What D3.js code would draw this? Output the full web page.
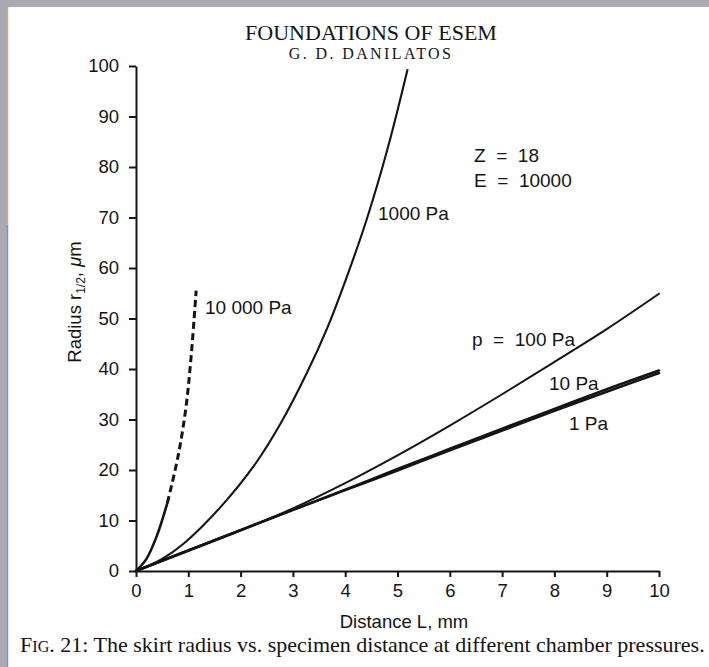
<!DOCTYPE html>
<html>
<head>
<meta charset="utf-8">
<script src="https://cdn.jsdelivr.net/npm/d3@7"></script>
<style>
  body { margin: 0; background: #a9aab1; }
  text { fill: #141414; }
</style>
</head>
<body>
<div id="chart"></div>
<script>
// values (distance L in mm, radius in um)
var xTicks = [0, 1, 2, 3, 4, 5, 6, 7, 8, 9, 10];
var yTicks = [0, 10, 20, 30, 40, 50, 60, 70, 80, 90, 100];

var p1 = [[0, 0], [1, 4.1], [2, 8.1], [3, 12.1], [4, 16], [5, 19.9], [6, 23.9], [7, 27.8], [8, 31.7], [9, 35.5], [10, 39.2]];
var p10 = [[0, 0], [1, 4.1], [2, 8.1], [3, 12.1], [4, 16.1], [5, 20.2], [6, 24.2], [7, 28.2], [8, 32.1], [9, 36], [10, 39.7]];
var p100 = [[0, 0], [1, 3.95], [2, 8], [3, 12.4], [4, 17.4], [5, 22.9], [6, 28.8], [7, 35], [8, 41.4], [9, 47.9], [10, 54.9]];
var p1000 = [[0, 0], [0.5, 2.4], [0.92, 5.5], [1.62, 12.7], [2.26, 20.9], [2.77, 29.3], [3.28, 39.5], [3.66, 48.2], [4.04, 58.5], [4.42, 69.9], [4.81, 83.6], [5.19, 99.2]];
var p10000 = [[0, 0], [0.2, 2.4], [0.4, 7], [0.6, 13.5], [0.8, 22.5], [0.95, 32], [1.05, 42], [1.15, 55.5]];

var width = 709, height = 667;

var svg = d3.select("#chart").append("svg")
  .attr("width", width)
  .attr("height", height);

// scanned page
svg.append("rect").attr("x", 7).attr("y", 7).attr("width", width - 7).attr("height", height - 7).attr("fill", "#fff");
svg.append("line").attr("x1", 7.5).attr("x2", 7.5).attr("y1", 7).attr("y2", 225)
  .attr("stroke", "#e2a86a").attr("stroke-width", 1.5);
svg.append("line").attr("x1", 7.5).attr("x2", 7.5).attr("y1", 225).attr("y2", height)
  .attr("stroke", "#7d8fd8").attr("stroke-width", 1.5);

var x = d3.scaleLinear().domain([0, 10]).range([136, 659]);
var y = d3.scaleLinear().domain([0, 100]).range([571, 66]);

// axes
var gx = svg.append("g")
  .attr("transform", "translate(0," + y(0) + ")")
  .call(d3.axisBottom(x).tickValues(xTicks).tickSize(6).tickSizeOuter(0).tickPadding(7));
var gy = svg.append("g")
  .attr("transform", "translate(" + x(0) + ",0)")
  .call(d3.axisLeft(y).tickValues(yTicks).tickSize(7).tickSizeOuter(0).tickPadding(10));

[gx, gy].forEach(function(g) {
  g.selectAll("path, line").attr("stroke", "#141414").attr("stroke-width", 2);
  g.selectAll("text")
    .attr("fill", "#141414")
    .style("font-family", "'Liberation Sans', Arial, sans-serif")
    .style("font-size", "18.5px");
});

var line = d3.line()
  .x(function(d) { return x(d[0]); })
  .y(function(d) { return y(d[1]); })
  .curve(d3.curveCatmullRom.alpha(0.5));

function curve(data, w, dash) {
  svg.append("path")
    .attr("d", line(data))
    .attr("fill", "none")
    .attr("stroke", "#141414")
    .attr("stroke-width", w)
    .attr("stroke-linecap", dash ? "butt" : "round")
    .attr("stroke-dasharray", dash || null);
}

curve(p1, 2.5);
curve(p10, 2.5);
curve(p100, 2);
curve(p1000, 2.1);
// 10 000 Pa: solid near the origin, dashed above
curve(p10000.filter(function(d) { return d[0] <= 0.6; }), 2.6);
curve(p10000.filter(function(d) { return d[0] >= 0.6; }), 3, "7,4");

// labels
var sans = "'Liberation Sans', Arial, sans-serif";
var serif = "'Liberation Serif', 'Times New Roman', serif";

function label(tx, ty, s, size, fam) {
  return svg.append("text")
    .attr("x", tx).attr("y", ty)
    .style("font-family", fam || sans)
    .style("font-size", (size || 19) + "px")
    .style("white-space", "pre")
    .text(s);
}

label(474, 162, "Z  =  18");
label(474, 187, "E  =  10000");
label(378, 220, "1000 Pa");
label(205, 314, "10 000 Pa");
label(472, 346, "p  =  100 Pa");
label(549, 390, "10 Pa");
label(569, 430, "1 Pa");

label(371, 40, "FOUNDATIONS OF ESEM", 22, serif).attr("text-anchor", "middle");
label(371, 59, "G. D. DANILATOS", 16, serif).attr("text-anchor", "middle").style("letter-spacing", "2.4px");

label(404, 628, "Distance L, mm", 18.5).attr("text-anchor", "middle");

// y axis title
var yt = svg.append("text")
  .attr("transform", "translate(81,302) rotate(-90)")
  .attr("text-anchor", "middle")
  .style("font-family", sans)
  .style("font-size", "18.5px");
yt.append("tspan").text("Radius r");
yt.append("tspan").attr("dy", 4).style("font-size", "12px").text("1/2");
yt.append("tspan").attr("dy", -4).text(", ");
yt.append("tspan").style("font-style", "italic").text("\u03bc");
yt.append("tspan").text("m");

// caption, font size fitted to the printed line width
var cap = svg.append("text")
  .attr("x", 20).attr("y", 652)
  .style("font-family", serif)
  .style("font-size", "17px");
cap.append("tspan").attr("class", "big").text("F");
cap.append("tspan").attr("class", "sc").style("font-size", "12.5px").text("IG");
cap.append("tspan").attr("class", "big").text(". 21: The skirt radius vs. specimen distance at different chamber pressures.");
var k = 685 / cap.node().getComputedTextLength();
cap.style("font-size", (17 * k) + "px");
cap.select(".sc").style("font-size", (12.5 * k) + "px");
</script>
</body>
</html>
